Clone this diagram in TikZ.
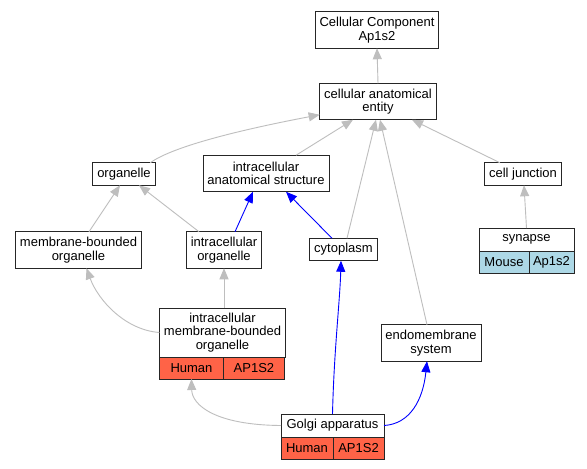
\documentclass[tikz,border=0pt]{standalone}
\usepackage{fontspec}
\setmainfont{Liberation Sans}
\usetikzlibrary{arrows.meta, positioning}
\definecolor{isagray}{RGB}{190,190,190}
\definecolor{humanred}{RGB}{255,99,71}
\definecolor{mouseblue}{RGB}{173,216,230}

\begin{document}
\begin{tikzpicture}[x=1pt, y=-1pt,
    term/.style={draw=black!85, line width=0.9pt, fill=white, align=center, outer sep=0pt,
        font=\fontsize{13}{13.3}\selectfont, inner xsep=4.5pt, inner ysep=0pt, minimum height=22.5pt},
    twoline/.style={term, minimum height=36.5pt},
    cell/.style={term, minimum height=22pt, inner xsep=0pt},
    isa/.style={draw=isagray, line width=0.9pt, -{Triangle[length=11pt, width=9pt]}},
    partof/.style={draw=blue, line width=0.9pt, -{Triangle[length=11pt, width=9pt]}}
]
    \fill[white] (0,0) rectangle (587,469);
    \useasboundingbox (0,0) rectangle (587,469);

    % terms
    \node[twoline] (comp) at (377,30) {Cellular Component\\Ap1s2};
    \node[twoline] (cae) at (378,101.5) {cellular anatomical\\entity};
    \node[term] (organ) at (124,174) {organelle};
    \node[twoline] (ias) at (266,173.5) {intracellular\\anatomical structure};
    \node[term] (junct) at (523,174) {cell junction};
    \node[twoline] (mbo) at (78.5,250) {membrane-bounded\\organelle};
    \node[twoline] (iorg) at (224,250) {intracellular\\organelle};
    \node[term] (cyto) at (343.5,249.5) {cytoplasm};
    \node[twoline] (endo) at (431,343) {endomembrane\\system};

    % terms with annotations
    \node[term, minimum width=95pt, minimum height=23pt] (syn) at (526.5,239.5) {synapse};
    \node[cell, fill=mouseblue, minimum width=50pt, anchor=north west] (synsp) at (syn.south west) {Mouse};
    \node[cell, fill=mouseblue, minimum width=45pt, right=0pt of synsp] (syngene) {Ap1s2};

    \node[term, minimum width=125pt, minimum height=49pt] (imbo) at (222.5,332.5) {intracellular\\membrane-bounded\\organelle};
    \node[cell, fill=humanred, minimum width=64pt, anchor=north west] (imbosp) at (imbo.south west) {Human};
    \node[cell, fill=humanred, minimum width=61pt, right=0pt of imbosp] (imbogene) {AP1S2};

    \node[term, minimum width=103pt, minimum height=23pt] (golgi) at (332.5,425.5) {Golgi apparatus};
    \node[cell, fill=humanred, minimum width=52pt, anchor=north west] (golgisp) at (golgi.south west) {Human};
    \node[cell, fill=humanred, minimum width=51pt, right=0pt of golgisp] (golgigene) {AP1S2};

    % is_a
    \draw[isa] (cae.north) -- (comp.south);
    \draw[isa] ([xshift=-5pt]organ.north east) .. controls (175,145) and (250,128) .. ([yshift=5pt]cae.south west);
    \draw[isa] ([xshift=30pt]ias.north) -- ([xshift=-25pt]cae.south);
    \draw[isa] ([xshift=3.5pt]cyto.north) -- ([xshift=-2pt]cae.south);
    \draw[isa] ([xshift=-4pt]endo.north) -- ([xshift=2pt]cae.south);
    \draw[isa] ([xshift=-23pt]junct.north) -- ([xshift=34pt]cae.south);
    \draw[isa] ([xshift=10.5pt]mbo.north) -- ([xshift=-4pt]organ.south);
    \draw[isa] ([xshift=-25pt]iorg.north) -- ([xshift=15pt]organ.south);
    \draw[isa] (syn.north) -- ([xshift=1pt]junct.south);
    \draw[isa] (imbo.west) .. controls (125,330) and (98,300) .. ([xshift=8pt]mbo.south);
    \draw[isa] ([xshift=1.5pt]imbo.north) -- (iorg.south);
    \draw[isa] (golgi.west) .. controls (215,425) and (192,405) .. (imbosp.south);

    % part_of
    \draw[partof] ([xshift=11pt]iorg.north) -- ([xshift=-13pt]ias.south);
    \draw[partof] ([xshift=-11.5pt]cyto.north) -- ([xshift=20pt]ias.south);
    \draw[partof] (golgi.north) .. controls (334,350) and (340,300) .. ([xshift=-2.5pt]cyto.south);
    \draw[partof] (golgi.east) .. controls (410,424) and (423,400) .. ([xshift=-4pt]endo.south);
\end{tikzpicture}
\end{document}
